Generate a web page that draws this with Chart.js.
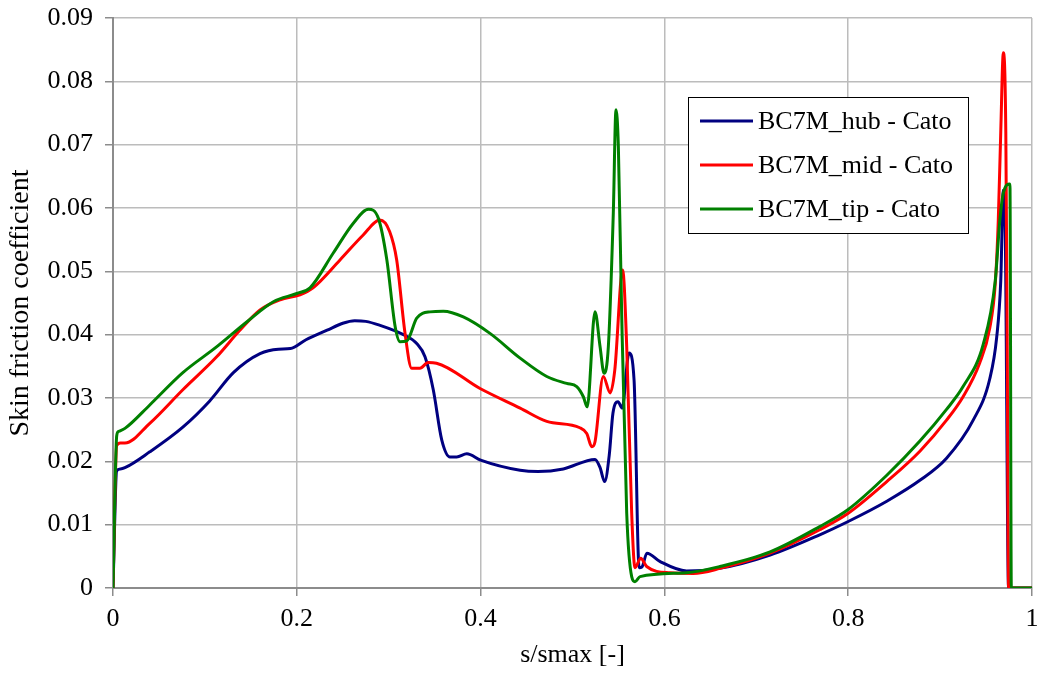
<!DOCTYPE html>
<html>
<head>
<meta charset="utf-8">
<title>Skin friction coefficient</title>
<script src="https://cdn.jsdelivr.net/npm/chart.js@4.4.1/dist/chart.umd.min.js"></script>
<style>
  html, body { margin: 0; padding: 0; background: #fff; }
  #wrap { width: 1042px; height: 675px; position: relative; }
</style>
</head>
<body>
<div id="wrap"><canvas id="cfChart" width="1042" height="675"></canvas></div>
<script>
// s/smax positions and Cf values
const hubS  = [0, 0.004, 0.008, 0.013, 0.04, 0.076, 0.105, 0.131, 0.16, 0.18, 0.193, 0.21, 0.233, 0.25, 0.263, 0.275, 0.29, 0.316, 0.3305, 0.3395, 0.3485, 0.3577, 0.3667, 0.374, 0.385, 0.40, 0.443, 0.4625, 0.49, 0.5245, 0.53, 0.535, 0.54, 0.544, 0.5495, 0.554, 0.5615, 0.567, 0.5725, 0.5755, 0.581, 0.595, 0.624, 0.66, 0.715, 0.769, 0.80, 0.842, 0.878, 0.907, 0.936, 0.954, 0.9616, 0.966, 0.9688, 0.971, 0.9745, 1.0];
const hubCf = [0, 0.0185, 0.0188, 0.019, 0.0215, 0.0254, 0.0295, 0.034, 0.037, 0.0377, 0.0378, 0.0392, 0.0407, 0.0418, 0.0422, 0.0421, 0.0415, 0.040, 0.0386, 0.0365, 0.0313, 0.0234, 0.0207, 0.0207, 0.0212, 0.0202, 0.0186, 0.0184, 0.0188, 0.0203, 0.019, 0.0168, 0.021, 0.0276, 0.0294, 0.0284, 0.0371, 0.0328, 0.0032, 0.0033, 0.0055, 0.0042, 0.0027, 0.0031, 0.0052, 0.0084, 0.0105, 0.0137, 0.017, 0.0205, 0.0265, 0.033, 0.0396, 0.0485, 0.0628, 0.055, 0, 0];

const midS  = [0, 0.004, 0.008, 0.013, 0.04, 0.076, 0.1128, 0.138, 0.16, 0.182, 0.2035, 0.2177, 0.247, 0.272, 0.2905, 0.301, 0.3087, 0.3177, 0.325, 0.334, 0.343, 0.352, 0.3994, 0.443, 0.472, 0.508, 0.5155, 0.521, 0.5245, 0.5335, 0.541, 0.546, 0.5546, 0.559, 0.5644, 0.568, 0.5742, 0.5807, 0.606, 0.6315, 0.6605, 0.715, 0.769, 0.80, 0.842, 0.878, 0.907, 0.925, 0.943, 0.954, 0.96, 0.9633, 0.966, 0.9688, 0.9715, 0.973, 0.9745, 1.0];
const midCf = [0, 0.0225, 0.0229, 0.0229, 0.026, 0.0313, 0.0365, 0.0407, 0.0439, 0.0455, 0.0463, 0.0474, 0.0518, 0.0557, 0.0581, 0.0563, 0.0518, 0.0403, 0.0347, 0.0347, 0.0356, 0.0355, 0.0315, 0.0284, 0.0263, 0.0253, 0.0244, 0.0223, 0.0231, 0.0334, 0.0308, 0.0344, 0.0502, 0.0381, 0.0118, 0.0032, 0.0047, 0.0034, 0.0024, 0.0023, 0.0031, 0.0055, 0.0092, 0.0118, 0.0168, 0.0216, 0.0265, 0.0302, 0.0355, 0.041, 0.048, 0.058, 0.072, 0.0845, 0.072, 0.04, 0, 0];

const tipS  = [0, 0.004, 0.0058, 0.013, 0.04, 0.076, 0.113, 0.1455, 0.1745, 0.20, 0.2144, 0.2397, 0.2615, 0.278, 0.2887, 0.298, 0.307, 0.3123, 0.3196, 0.3305, 0.345, 0.3594, 0.3812, 0.4102, 0.443, 0.472, 0.4937, 0.5046, 0.5118, 0.516, 0.5245, 0.53, 0.5343, 0.539, 0.5444, 0.5473, 0.5499, 0.5535, 0.559, 0.5644, 0.568, 0.5735, 0.624, 0.6605, 0.715, 0.769, 0.80, 0.842, 0.878, 0.907, 0.925, 0.947, 0.96, 0.965, 0.969, 0.976, 0.9775, 1.0];
const tipCf = [0, 0.024, 0.0247, 0.0252, 0.0289, 0.034, 0.0381, 0.042, 0.0452, 0.0465, 0.0474, 0.0529, 0.0576, 0.0598, 0.0584, 0.0518, 0.0413, 0.0389, 0.039, 0.0426, 0.0436, 0.0437, 0.0428, 0.0402, 0.0363, 0.0334, 0.0323, 0.0318, 0.0302, 0.0286, 0.0436, 0.0381, 0.0339, 0.0381, 0.0592, 0.0755, 0.0697, 0.0434, 0.0118, 0.0018, 0.001, 0.0018, 0.0024, 0.0034, 0.0057, 0.0097, 0.0124, 0.0178, 0.0232, 0.0282, 0.0318, 0.0385, 0.0485, 0.058, 0.0625, 0.0638, 0, 0];

const seriesNames = ['BC7M_hub - Cato', 'BC7M_mid - Cato', 'BC7M_tip - Cato'];
const seriesColors = ['#000080', '#ff0000', '#008000'];
const xTickLabels = ['0', '0.2', '0.4', '0.6', '0.8', '1'];
const yTickLabels = ['0', '0.01', '0.02', '0.03', '0.04', '0.05', '0.06', '0.07', '0.08', '0.09'];

const FONT = "'Liberation Serif', 'Times New Roman', serif";
const FONT_SIZE = 26;

function toPoints(xs, ys) {
  return xs.map((x, i) => ({ x: x, y: ys[i] }));
}

// legend drawn inside the plot, boxed, like the Excel original
const boxLegend = {
  id: 'boxLegend',
  afterDraw(chart) {
    const { ctx, chartArea } = chart;
    const left = chartArea.left + 575;
    const top = chartArea.top + 79;
    const w = 280, h = 136;
    ctx.save();
    ctx.fillStyle = '#fff';
    ctx.fillRect(left, top, w, h);
    ctx.strokeStyle = '#000';
    ctx.lineWidth = 1;
    ctx.strokeRect(left + 0.5, top + 0.5, w, h);
    ctx.font = FONT_SIZE + 'px ' + FONT;
    ctx.textBaseline = 'middle';
    ctx.textAlign = 'left';
    chart.data.datasets.forEach((ds, i) => {
      const y = top + 24 + i * 44;
      ctx.strokeStyle = ds.borderColor;
      ctx.lineWidth = 3;
      ctx.beginPath();
      ctx.moveTo(left + 12, y);
      ctx.lineTo(left + 65, y);
      ctx.stroke();
      ctx.fillStyle = '#000';
      ctx.fillText(ds.label, left + 70, y + 1);
    });
    ctx.restore();
  }
};

new Chart(document.getElementById('cfChart'), {
  type: 'line',
  data: {
    datasets: [
      { label: seriesNames[0], data: toPoints(hubS, hubCf), borderColor: seriesColors[0], order: 3 },
      { label: seriesNames[1], data: toPoints(midS, midCf), borderColor: seriesColors[1], order: 2 },
      { label: seriesNames[2], data: toPoints(tipS, tipCf), borderColor: seriesColors[2], order: 1 }
    ]
  },
  options: {
    responsive: false,
    animation: false,
    devicePixelRatio: 1,
    layout: { padding: { top: 18, right: 10, left: 0, bottom: 0 } },
    elements: {
      line: { borderWidth: 3, cubicInterpolationMode: 'monotone', fill: false },
      point: { radius: 0, hitRadius: 0 }
    },
    plugins: {
      legend: { display: false },
      tooltip: { enabled: false }
    },
    scales: {
      x: {
        type: 'linear',
        min: 0,
        max: 1,
        afterFit: (scale) => {
          scale.height = 87;
          scale.paddingLeft = 0;
          scale.paddingRight = 0;
        },
        grid: { color: '#bcbcbc', lineWidth: 1.5, tickLength: 8, tickColor: '#8c8c8c' },
        border: { color: '#8c8c8c', width: 2 },
        ticks: {
          stepSize: 0.2,
          padding: 8,
          color: '#000',
          font: { family: FONT, size: FONT_SIZE },
          callback: (v, i) => xTickLabels[i]
        },
        title: {
          display: true,
          text: 's/smax [-]',
          color: '#000',
          font: { family: FONT, size: FONT_SIZE },
          padding: { top: 0, bottom: 4 }
        }
      },
      y: {
        min: 0,
        max: 0.09,
        afterFit: (scale) => {
          scale.width = 113;
          scale.paddingTop = 0;
          scale.paddingBottom = 0;
        },
        grid: { color: '#bcbcbc', lineWidth: 1.5, tickLength: 8, tickColor: '#8c8c8c' },
        border: { color: '#8c8c8c', width: 2 },
        ticks: {
          stepSize: 0.01,
          padding: 12,
          color: '#000',
          font: { family: FONT, size: FONT_SIZE },
          callback: (v, i) => yTickLabels[i]
        },
        title: {
          display: true,
          text: 'Skin friction coefficient',
          color: '#000',
          font: { family: FONT, size: 28 },
          padding: { top: 4, bottom: 0 }
        }
      }
    }
  },
  plugins: [boxLegend]
});
</script>
</body>
</html>
